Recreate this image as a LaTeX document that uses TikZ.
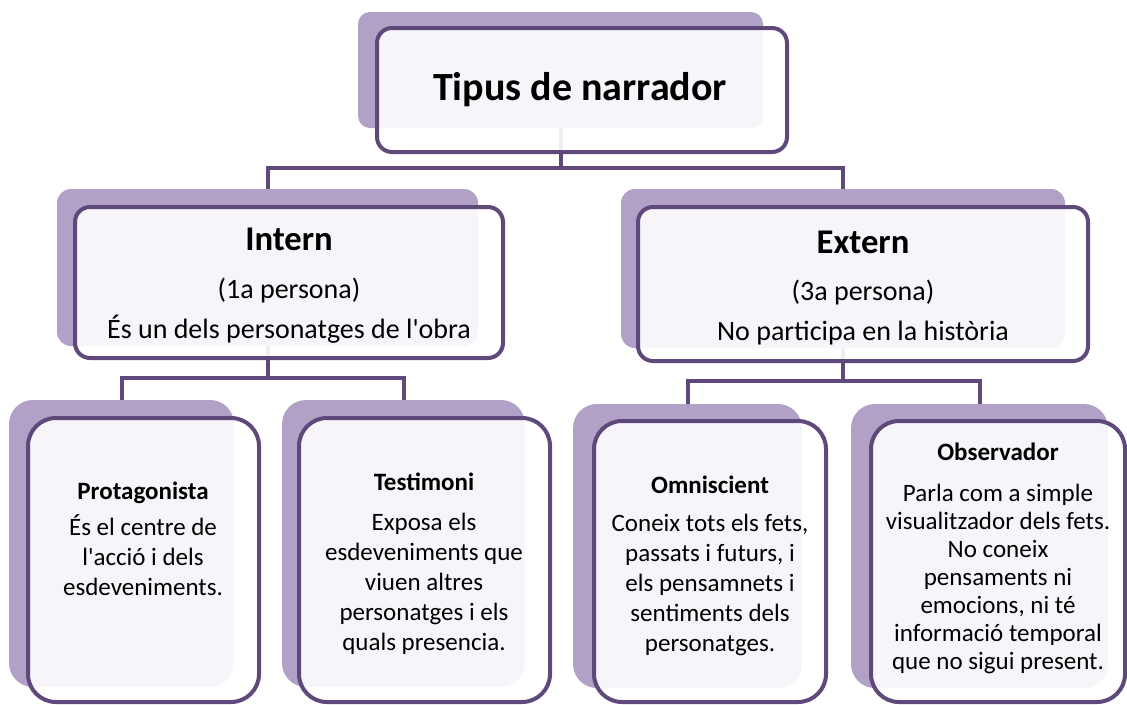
\documentclass[tikz,border=0pt]{standalone}
\usepackage{fontspec}
\setmainfont{Carlito}[Ligatures=TeXOff]
\definecolor{shadowc}{HTML}{B2A1C7}
\definecolor{borderc}{HTML}{5F497A}
\tikzset{
  shbox/.style={fill=shadowc, draw=none, inner sep=0pt, outer sep=0pt},
  frbox/.style={fill=white, fill opacity=0.9, draw=borderc, draw opacity=1, line width=3pt, inner sep=0pt, outer sep=0pt},
  conn/.style={draw=borderc, line width=3pt},
  ttl/.style={anchor=base, font=\fontsize{30}{36}\selectfont\bfseries},
  hdr/.style={anchor=base, font=\fontsize{26}{31}\selectfont\bfseries},
  mid/.style={anchor=base, font=\fontsize{21}{25}\selectfont},
  bhd/.style={anchor=base, font=\fontsize{18.75}{22.5}\selectfont\bfseries},
  bbody/.style={anchor=base, inner sep=0pt, font=\fontsize{18.75}{22.5}\selectfont},
  obody/.style={anchor=base, inner sep=0pt, font=\fontsize{18.75}{21}\selectfont},
}
\newcommand\mkbox[7]{% style, name, x0, y0, x1, y1, radius
  \pgfmathsetmacro\bw{(#5-#3)*0.75}%
  \pgfmathsetmacro\bh{(#6-#4)*0.75}%
  \pgfmathsetmacro\br{#7*0.75}%
  \pgfmathsetmacro\bx{(#3+#5)/2}%
  \pgfmathsetmacro\by{(#4+#6)/2}%
  \node[#1, rounded corners=\br pt, minimum width=\bw pt, minimum height=\bh pt] (#2) at (\bx,\by) {};
}
\newcommand\lines[1]{\begin{tabular}[t]{@{}c@{}}#1\end{tabular}}
\begin{document}
\begin{tikzpicture}[x=0.75pt, y=-0.75pt]
\useasboundingbox (0,0) rectangle (1127,704);
% shadows
\mkbox{shbox}{tops}{358}{12}{763}{128}{12}
\mkbox{shbox}{ints}{57}{189}{478}{346}{14}
\mkbox{shbox}{exts}{621}{189}{1065}{348}{14}
\mkbox{shbox}{pros}{9}{400}{234}{687}{24}
\mkbox{shbox}{tess}{282}{400}{525}{687}{24}
\mkbox{shbox}{omns}{573}{404}{802}{688}{24}
\mkbox{shbox}{obss}{851}{404}{1108}{688}{24}
% connectors
\coordinate (j1) at (560,168);
\coordinate (j2) at (268,378);
\coordinate (j3) at (843,381);
\draw[conn] (tops.south) -- (tops.south |- j1);
\draw[conn] (ints.north) |- (j1) -| (exts.north);
\draw[conn] (ints.south) -- (ints.south |- j2);
\draw[conn] (pros.north) |- (j2) -| (tess.north);
\draw[conn] (exts.south) -- (exts.south |- j3);
\draw[conn] (omns.north) |- (j3) -| (obss.north);
% fronts
\mkbox{frbox}{top}{377}{28}{787}{152}{15}
\mkbox{frbox}{int}{75}{207}{503}{358}{15}
\mkbox{frbox}{ext}{638}{207}{1088}{361}{15}
\mkbox{frbox}{pro}{28}{418}{259}{702}{28}
\mkbox{frbox}{tes}{299}{418}{550}{702}{28}
\mkbox{frbox}{omn}{594}{421}{826}{702}{28}
\mkbox{frbox}{obs}{871}{421}{1125}{702}{28}
% texts
\node[ttl] (t0) at (580,100) {Tipus de narrador};
\node[hdr] (t1) at (289,250) {Intern};
\node[mid] (t1a) at (289,298) {(1a persona)};
\node[mid] (t1b) at (289,338) {És un dels personatges de l'obra};
\node[hdr] (t2) at (863,253) {Extern};
\node[mid] (t2a) at (863,300) {(3a persona)};
\node[mid] (t2b) at (863,340) {No participa en la història};
\node[bhd] (h1) at (143,499) {Protagonista};
\node[bbody] (b1) at (143,535) {\lines{És el centre de\\l'acció i dels\\esdeveniments.}};
\node[bhd] (h2) at (424,490) {Testimoni};
\node[bbody] (b2) at (424,530) {\lines{Exposa els\\esdeveniments que\\viuen altres\\personatges i els\\quals presencia.}};
\node[bhd] (h3) at (710,493) {Omniscient};
\node[bbody] (b3) at (710,531) {\lines{Coneix tots els fets,\\passats i futurs, i\\els pensamnets i\\sentiments dels\\personatges.}};
\node[bhd] (h4) at (998,460) {Observador};
\node[obody] (b4) at (998,501) {\lines{Parla com a simple\\visualitzador dels fets.\\No coneix\\pensaments ni\\emocions, ni té\\informació temporal\\que no sigui present.}};
\end{tikzpicture}
\end{document}
